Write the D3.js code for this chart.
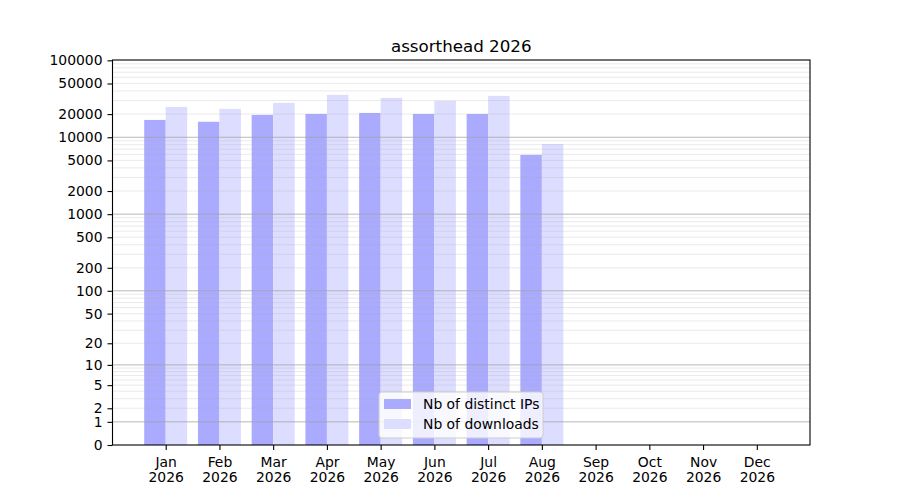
<!DOCTYPE html>
<html>
<head>
<meta charset="utf-8">
<script src="https://cdn.jsdelivr.net/npm/d3@7"></script>
<style>
  body { margin: 0; background: #fff; }
  text { font-family: "DejaVu Sans", sans-serif; }
</style>
</head>
<body>
<svg id="chart" width="900" height="500"></svg>
<script>
// data
var months = ["Jan", "Feb", "Mar", "Apr", "May", "Jun", "Jul", "Aug", "Sep", "Oct", "Nov", "Dec"];
var year = "2026";
var distinctIPs = [16800, 15900, 19500, 20100, 20700, 20100, 20100, 5900, 0, 0, 0, 0];
var downloads = [24800, 23400, 28000, 35600, 32500, 29700, 34500, 8200, 0, 0, 0, 0];
var yTickValues = [0, 1, 2, 5, 10, 20, 50, 100, 200, 500, 1000, 2000, 5000, 10000, 20000, 50000, 100000];
var seriesNames = ["Nb of distinct IPs", "Nb of downloads"];
var seriesColors = ["#aaaaff", "#ddddff"];

var svg = d3.select("#chart"),
  margin = {top: 60, right: 90, bottom: 55, left: 112.5},
  width = 900 - margin.left - margin.right,
  height = 500 - margin.top - margin.bottom;
var g = svg.append("g").attr("transform", "translate(" + margin.left + "," + margin.top + ")");

var barWidth = 0.4;
var x = d3.scaleLinear()
  .domain([-0.99, 11.99])
  .range([0, width]);

var y = d3.scaleSymlog()
  .constant(1)
  .domain([0, 101000])
  .range([height, 0]);

// bars
var series = [distinctIPs, downloads];
series.forEach(function (vals, s) {
  g.append("g")
    .selectAll("rect")
    .data(vals)
    .enter().append("rect")
    .attr("x", (d, i) => x(i - barWidth + s * barWidth))
    .attr("width", x(barWidth) - x(0))
    .attr("y", d => y(d))
    .attr("height", d => y(0) - y(d))
    .style("fill", seriesColors[s]);
});

// gridlines (drawn over bars like the original)
var minor = [];
for (var p = 0; p <= 4; p++) {
  for (var k = 2; k <= 9; k++) minor.push(k * Math.pow(10, p));
}
var major = [1, 10, 100, 1000, 10000];

g.append("g")
  .attr("class", "grid")
  .selectAll("line")
  .data(minor)
  .enter().append("line")
  .attr("x1", 0).attr("x2", width)
  .attr("y1", d => y(d)).attr("y2", d => y(d))
  .style("stroke", "#b0b0b0")
  .style("stroke-opacity", 0.25)
  .style("stroke-width", 1);

g.append("g")
  .attr("class", "grid")
  .selectAll("line")
  .data(major)
  .enter().append("line")
  .attr("x1", 0).attr("x2", width)
  .attr("y1", d => y(d)).attr("y2", d => y(d))
  .style("stroke", "#a0a0a0")
  .style("stroke-opacity", 0.75)
  .style("stroke-width", 1);

// axes
var yAxis = g.append("g")
  .call(d3.axisLeft(y)
    .tickValues(yTickValues)
    .tickFormat(d3.format("d"))
    .tickSize(5)
    .tickPadding(5));

var xAxis = g.append("g")
  .attr("transform", "translate(0," + height + ")")
  .call(d3.axisBottom(x)
    .tickValues(d3.range(months.length))
    .tickFormat("")
    .tickSize(5));

[yAxis, xAxis].forEach(function (ax) {
  ax.select(".domain").remove();
  ax.selectAll("line").style("stroke", "#000").style("stroke-width", 1.1);
  ax.selectAll("text").style("font-size", "13.9px").style("fill", "#000")
    .style("font-family", "DejaVu Sans, sans-serif");
});

xAxis.selectAll(".tick")
  .append("text")
  .attr("text-anchor", "middle")
  .style("font-size", "13.9px")
  .style("font-family", "DejaVu Sans, sans-serif")
  .style("fill", "#000")
  .each(function (d) {
    var t = d3.select(this);
    t.append("tspan").attr("x", 0).attr("y", 22).text(months[d]);
    t.append("tspan").attr("x", 0).attr("y", 37).text(year);
  });

// frame
g.append("rect")
  .attr("width", width)
  .attr("height", height)
  .style("fill", "none")
  .style("stroke", "#000")
  .style("stroke-width", 1.1);

// title
g.append("text")
  .attr("x", width / 2)
  .attr("y", -8)
  .attr("text-anchor", "middle")
  .style("font-size", "16.7px")
  .text("assorthead " + year);

// legend
var legend = g.append("g").attr("transform", "translate(" + (379 - margin.left) + "," + (392 - margin.top) + ")");
legend.append("rect")
  .attr("width", 164)
  .attr("height", 46)
  .attr("rx", 3)
  .style("fill", "#fff")
  .style("fill-opacity", 0.8)
  .style("stroke", "#cccccc")
  .style("stroke-width", 1);
var item = legend.selectAll(".item")
  .data(seriesNames)
  .enter().append("g")
  .attr("transform", (d, i) => "translate(0," + (i * 20) + ")");
item.append("rect")
  .attr("x", 5)
  .attr("y", 7)
  .attr("width", 27)
  .attr("height", 10)
  .style("fill", (d, i) => seriesColors[i]);
item.append("text")
  .attr("x", 44)
  .attr("y", 17)
  .style("font-size", "13.9px")
  .text(d => d);
</script>
</body>
</html>
